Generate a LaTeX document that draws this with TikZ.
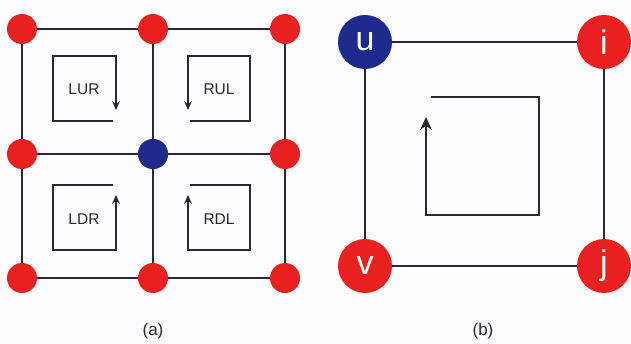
\documentclass[tikz,border=0pt]{standalone}
\usepackage{fontspec}
\setmainfont{Liberation Sans}
\usetikzlibrary{arrows.meta}
\definecolor{dotred}{HTML}{E8201F}
\definecolor{dotblue}{HTML}{1E2A8C}
\definecolor{ink}{HTML}{2A2A2A}
\definecolor{bg}{HTML}{FCFCFE}
\begin{document}
\begin{tikzpicture}[x=1pt,y=-1pt,
  edge/.style={draw=ink,line width=1.1pt},
  loopline/.style={draw=ink,line width=1.1pt,-{Stealth[length=9pt,width=8pt]}},
  bigloop/.style={draw=ink,line width=1.3pt,-{Stealth[length=13pt,width=12pt]}},
  sdot/.style={circle,inner sep=0pt,minimum size=30pt,fill=#1},
  bdot/.style={circle,inner sep=0pt,minimum size=54pt,fill=#1,text=white,font=\fontsize{34}{34}\selectfont},
  lbl/.style={font=\fontsize{15.5}{15.5}\selectfont,text=ink},
  captext/.style={font=\fontsize{17}{17}\selectfont,text=ink}]
\fill[bg] (0,0) rectangle (631,344);
\useasboundingbox (0,0) rectangle (631,344);
% panel (a)
\foreach \i/\x in {1/22,2/153,3/285}{
  \foreach \j/\y in {1/29,2/154,3/278}{
    \coordinate (g\i\j) at (\x,\y);
  }
}
\draw[edge] (g11) -- (g31) (g12) -- (g32) (g13) -- (g33)
            (g11) -- (g13) (g21) -- (g23) (g31) -- (g33);
\foreach \i in {1,2,3}{\foreach \j in {1,2,3}{
  \node[sdot=dotred] (n\i\j) at (g\i\j) {};
}}
\node[sdot=dotblue] (n22b) at (g22) {};
% loops
\draw[loopline] (113,121) -- (53,121) -- (53,56) -- (116,56) -- (116,110);
\draw[loopline] (190,121) -- (250,121) -- (250,56) -- (188,56) -- (188,110);
\draw[loopline] (113,185) -- (53,185) -- (53,250) -- (116,250) -- (116,195);
\draw[loopline] (190,185) -- (250,185) -- (250,250) -- (188,250) -- (188,195);
\node[lbl] (lur) at (84,89) {LUR};
\node[lbl] (rul) at (219,89) {RUL};
\node[lbl] (ldr) at (84,219) {LDR};
\node[lbl] (rdl) at (219,219) {RDL};
% panel (b)
\coordinate (cu) at (365,42);
\coordinate (ci) at (604,42);
\coordinate (cv) at (365,266);
\coordinate (cj) at (604,266);
\draw[edge] (cu) -- (ci) -- (cj) -- (cv) -- cycle;
\node[bdot=dotblue] (u) at (cu) {u};
\node[bdot=dotred] (i) at (ci) {i};
\node[bdot=dotred] (v) at (cv) {v};
\node[bdot=dotred] (j) at (cj) {j};
\draw[bigloop] (431,97) -- (539,97) -- (539,215) -- (426,215) -- (426,117);
\node[captext] (capa) at (153,331) {(a)};
\node[captext] (capb) at (483,331) {(b)};
\end{tikzpicture}
\end{document}
